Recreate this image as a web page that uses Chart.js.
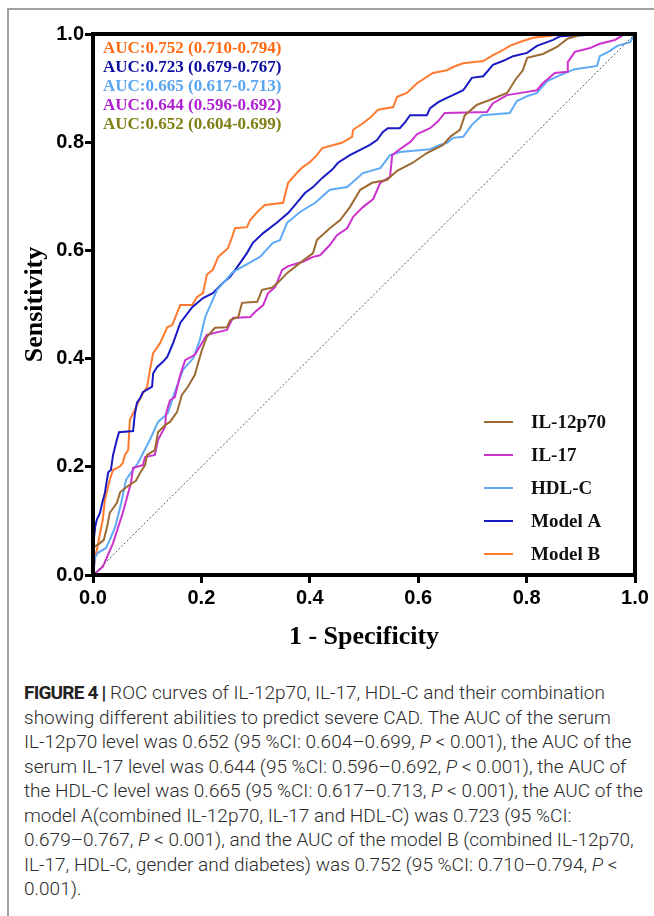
<!DOCTYPE html>
<html>
<head>
<meta charset="utf-8">
<script src="https://cdn.jsdelivr.net/npm/chart.js@4.4.1/dist/chart.umd.min.js"></script>
<style>
  body { margin: 0; background: #fff; width: 654px; height: 916px; overflow: hidden; position: relative; }
  .frame { position: absolute; left: 7px; top: 8px; width: 700px; height: 1000px;
           border-left: 2px solid #a0a0a0; border-top: 2px solid #a0a0a0; }
  .chart-box { position: absolute; left: 0; top: 0; width: 654px; height: 660px; }
  .caption { position: absolute; left: 24px; top: 681px; font-family: "Roboto", sans-serif; font-weight: 300;
             font-size: 19px; line-height: 24.5px; color: #2b2b2b; white-space: nowrap; }
  .caption b { color: #222; font-weight: 700; letter-spacing: -0.8px; }
</style>
</head>
<body>
<div class="frame"></div>
<div class="chart-box"><canvas id="rocChart"></canvas></div>
<div class="caption">
<b>FIGURE 4 |</b> ROC curves of IL-12p70, IL-17, HDL-C and their combination<br>
showing different abilities to predict severe CAD. The AUC of the serum<br>
IL-12p70 level was 0.652 (95 %CI: 0.604–0.699, <i>P</i> &lt; 0.001), the AUC of the<br>
serum IL-17 level was 0.644 (95 %CI: 0.596–0.692, <i>P</i> &lt; 0.001), the AUC of<br>
the HDL-C level was 0.665 (95 %CI: 0.617–0.713, <i>P</i> &lt; 0.001), the AUC of the<br>
model A(combined IL-12p70, IL-17 and HDL-C) was 0.723 (95 %CI:<br>
0.679–0.767, <i>P</i> &lt; 0.001), and the AUC of the model B (combined IL-12p70,<br>
IL-17, HDL-C, gender and diabetes) was 0.752 (95 %CI: 0.710–0.794, <i>P</i> &lt;<br>
0.001).
</div>
<script>
// ROC points: [1 - specificity, sensitivity]
const il12p70 = [[0,0],[0.002,0.052],[0.013,0.059],[0.020,0.065],[0.026,0.089],[0.031,0.115],[0.044,0.133],[0.050,0.153],[0.065,0.165],[0.079,0.174],[0.087,0.189],[0.096,0.203],[0.100,0.222],[0.114,0.231],[0.120,0.264],[0.133,0.277],[0.142,0.283],[0.155,0.301],[0.164,0.333],[0.175,0.348],[0.188,0.370],[0.194,0.392],[0.201,0.416],[0.210,0.440],[0.225,0.457],[0.247,0.458],[0.253,0.471],[0.268,0.477],[0.275,0.503],[0.303,0.505],[0.312,0.527],[0.330,0.531],[0.341,0.540],[0.358,0.558],[0.382,0.577],[0.406,0.595],[0.413,0.619],[0.437,0.641],[0.456,0.656],[0.474,0.680],[0.493,0.712],[0.515,0.725],[0.542,0.730],[0.561,0.747],[0.590,0.762],[0.616,0.780],[0.646,0.795],[0.659,0.810],[0.677,0.823],[0.686,0.850],[0.708,0.869],[0.732,0.878],[0.764,0.891],[0.779,0.915],[0.793,0.933],[0.801,0.956],[0.830,0.963],[0.856,0.976],[0.875,0.991],[0.904,1],[1,1]];
const il17 = [[0,0],[0.018,0.015],[0.037,0.059],[0.055,0.115],[0.070,0.170],[0.074,0.198],[0.092,0.203],[0.096,0.218],[0.114,0.222],[0.120,0.250],[0.133,0.274],[0.135,0.299],[0.142,0.323],[0.151,0.329],[0.161,0.370],[0.170,0.397],[0.188,0.407],[0.201,0.429],[0.210,0.444],[0.247,0.453],[0.258,0.475],[0.290,0.477],[0.299,0.486],[0.314,0.499],[0.323,0.521],[0.336,0.532],[0.349,0.564],[0.360,0.571],[0.387,0.579],[0.406,0.588],[0.419,0.591],[0.437,0.610],[0.450,0.628],[0.469,0.641],[0.480,0.662],[0.498,0.680],[0.517,0.695],[0.530,0.725],[0.548,0.736],[0.552,0.776],[0.566,0.787],[0.585,0.800],[0.598,0.815],[0.622,0.826],[0.637,0.839],[0.649,0.854],[0.727,0.856],[0.738,0.872],[0.764,0.887],[0.801,0.893],[0.819,0.896],[0.830,0.909],[0.852,0.928],[0.875,0.930],[0.876,0.948],[0.889,0.967],[0.917,0.974],[0.935,0.982],[0.963,0.989],[0.978,0.998],[1,1]];
const hdlc = [[0,0],[0.004,0.033],[0.009,0.041],[0.024,0.050],[0.031,0.065],[0.041,0.089],[0.052,0.133],[0.061,0.176],[0.070,0.189],[0.083,0.207],[0.105,0.250],[0.120,0.283],[0.138,0.299],[0.149,0.333],[0.166,0.379],[0.185,0.401],[0.197,0.434],[0.207,0.477],[0.229,0.527],[0.258,0.560],[0.308,0.588],[0.332,0.614],[0.345,0.619],[0.358,0.651],[0.382,0.671],[0.410,0.688],[0.437,0.712],[0.469,0.717],[0.498,0.743],[0.530,0.752],[0.548,0.776],[0.566,0.782],[0.622,0.787],[0.640,0.795],[0.653,0.799],[0.664,0.808],[0.683,0.810],[0.699,0.832],[0.718,0.850],[0.769,0.854],[0.782,0.876],[0.801,0.885],[0.819,0.891],[0.838,0.913],[0.862,0.924],[0.889,0.935],[0.930,0.941],[0.935,0.959],[0.954,0.969],[0.967,0.978],[0.991,0.985],[0.996,0.993],[1,1]];
const modelA = [[0,0],[0.002,0.070],[0.004,0.089],[0.007,0.102],[0.013,0.115],[0.017,0.133],[0.022,0.152],[0.028,0.190],[0.033,0.194],[0.037,0.222],[0.044,0.250],[0.048,0.264],[0.074,0.266],[0.077,0.296],[0.081,0.318],[0.087,0.327],[0.092,0.338],[0.109,0.348],[0.111,0.373],[0.118,0.384],[0.129,0.394],[0.137,0.403],[0.148,0.429],[0.161,0.466],[0.183,0.495],[0.203,0.512],[0.221,0.521],[0.240,0.540],[0.253,0.551],[0.266,0.569],[0.284,0.595],[0.295,0.614],[0.314,0.632],[0.339,0.651],[0.360,0.669],[0.376,0.688],[0.391,0.706],[0.406,0.717],[0.423,0.734],[0.441,0.749],[0.452,0.762],[0.474,0.776],[0.493,0.786],[0.511,0.795],[0.524,0.804],[0.535,0.819],[0.544,0.826],[0.566,0.826],[0.576,0.837],[0.585,0.850],[0.616,0.850],[0.622,0.863],[0.637,0.874],[0.653,0.882],[0.664,0.887],[0.683,0.896],[0.699,0.919],[0.720,0.922],[0.738,0.943],[0.756,0.950],[0.775,0.959],[0.801,0.965],[0.819,0.978],[0.849,0.989],[0.862,0.996],[0.911,0.998],[1,1]];
const modelB = [[0,0],[0.002,0.018],[0.004,0.033],[0.009,0.055],[0.013,0.078],[0.018,0.102],[0.022,0.139],[0.031,0.176],[0.037,0.194],[0.050,0.201],[0.055,0.207],[0.059,0.222],[0.065,0.231],[0.068,0.287],[0.077,0.305],[0.081,0.314],[0.092,0.336],[0.100,0.348],[0.105,0.379],[0.111,0.410],[0.124,0.429],[0.137,0.458],[0.146,0.462],[0.155,0.484],[0.161,0.499],[0.183,0.499],[0.192,0.514],[0.203,0.521],[0.210,0.555],[0.221,0.564],[0.231,0.588],[0.249,0.604],[0.256,0.623],[0.262,0.641],[0.284,0.643],[0.290,0.656],[0.303,0.671],[0.317,0.684],[0.351,0.688],[0.354,0.702],[0.360,0.725],[0.376,0.743],[0.387,0.754],[0.400,0.763],[0.413,0.776],[0.423,0.789],[0.459,0.799],[0.478,0.810],[0.480,0.823],[0.498,0.835],[0.511,0.845],[0.526,0.860],[0.554,0.865],[0.561,0.884],[0.579,0.891],[0.598,0.909],[0.627,0.928],[0.653,0.933],[0.664,0.939],[0.683,0.946],[0.720,0.950],[0.738,0.961],[0.756,0.970],[0.769,0.978],[0.793,0.987],[0.812,0.993],[0.856,0.998],[0.899,1],[1,1]];
const reference = [[0,0],[1,1]];

const seriesNames = ['IL-12p70', 'IL-17', 'HDL-C', 'Model A', 'Model B'];
const aucLabels = [
    'AUC:0.752 (0.710-0.794)',
    'AUC:0.723 (0.679-0.767)',
    'AUC:0.665 (0.617-0.713)',
    'AUC:0.644 (0.596-0.692)',
    'AUC:0.652 (0.604-0.699)'
];
const tickValues = [0, 0.2, 0.4, 0.6, 0.8, 1.0];
const tickLabels = ['0.0', '0.2', '0.4', '0.6', '0.8', '1.0'];

const lineColors = ['#9c6a32', '#cc33cc', '#5eaaf5', '#1a1ac4', '#ff7a2e'];
const aucColors = ['#ff6a14', '#0c0ca0', '#5aa6f2', '#b020d0', '#7f7f14'];

const toXY = pts => pts.map(p => ({ x: p[0], y: p[1] }));

// legend + AUC text inside the plot, and the closed black frame
const innerText = {
    id: 'innerText',
    afterDatasetsDraw(chart) {
        const { ctx, chartArea } = chart;
        ctx.save();
        ctx.strokeStyle = '#000';
        ctx.lineWidth = 4;
        ctx.strokeRect(chartArea.left, chartArea.top, chartArea.right - chartArea.left, chartArea.bottom - chartArea.top);

        ctx.font = 'bold 17px "Liberation Serif", "Times New Roman", serif';
        ctx.textBaseline = 'middle';
        ctx.textAlign = 'left';
        aucLabels.forEach((t, i) => {
            ctx.fillStyle = aucColors[i];
            ctx.fillText(t, chartArea.left + 10, chartArea.top + 15 + i * 19);
        });

        ctx.font = 'bold 19px "Liberation Serif", "Times New Roman", serif';
        seriesNames.forEach((name, i) => {
            const y = chartArea.top + 388 + i * 33;
            ctx.strokeStyle = lineColors[i];
            ctx.lineWidth = 2;
            ctx.beginPath();
            ctx.moveTo(chartArea.left + 391, y);
            ctx.lineTo(chartArea.left + 420, y);
            ctx.stroke();
            ctx.fillStyle = '#111';
            ctx.fillText(name, chartArea.left + 438, y + 1);
        });
        ctx.restore();
    }
};

const datasets = [
    {
        label: 'ref',
        data: toXY(reference),
        borderColor: '#555',
        borderWidth: 1,
        borderDash: [2, 2],
        pointRadius: 0
    }
];
[il12p70, il17, hdlc, modelA, modelB].forEach((pts, i) => {
    datasets.push({
        label: seriesNames[i],
        data: toXY(pts),
        borderColor: lineColors[i],
        borderWidth: 2,
        pointRadius: 0,
        tension: 0
    });
});

const axisTicks = {
    color: '#000',
    font: { family: '"Liberation Sans", Arial, sans-serif', size: 20, weight: 'bold' },
    callback: (v) => {
        const idx = tickValues.findIndex(t => Math.abs(t - v) < 1e-6);
        return idx >= 0 ? tickLabels[idx] : '';
    }
};

new Chart(document.getElementById('rocChart'), {
    type: 'line',
    data: { datasets: datasets },
    options: {
        responsive: true,
        maintainAspectRatio: false,
        animation: false,
        layout: { padding: { top: 34, right: 19, left: 0, bottom: 0 } },
        plugins: {
            legend: { display: false },
            tooltip: { enabled: false }
        },
        scales: {
            x: {
                type: 'linear',
                min: 0,
                max: 1,
                afterFit: (scale) => { scale.height = 85; },
                afterBuildTicks: (scale) => { scale.ticks = tickValues.map(v => ({ value: v })); },
                border: { display: true, width: 4, color: '#000' },
                grid: { drawOnChartArea: false, tickLength: 8, tickWidth: 3, tickColor: '#000' },
                ticks: Object.assign({ padding: 3, maxRotation: 0 }, axisTicks),
                title: {
                    display: true,
                    text: '1 - Specificity',
                    color: '#000',
                    font: { family: '"Liberation Serif", "Times New Roman", serif', size: 26, weight: 'bold' },
                    padding: { top: 0, bottom: 7 }
                }
            },
            y: {
                type: 'linear',
                min: 0,
                max: 1,
                afterFit: (scale) => { scale.width = 93; },
                afterBuildTicks: (scale) => { scale.ticks = tickValues.map(v => ({ value: v })); },
                border: { display: true, width: 4, color: '#000' },
                grid: { drawOnChartArea: false, tickLength: 8, tickWidth: 3, tickColor: '#000' },
                ticks: Object.assign({ padding: 1 }, axisTicks),
                title: {
                    display: true,
                    text: 'Sensitivity',
                    color: '#000',
                    font: { family: '"Liberation Serif", "Times New Roman", serif', size: 26, weight: 'bold' },
                    padding: { top: 20, bottom: 0 }
                }
            }
        }
    },
    plugins: [innerText]
});
</script>
</body>
</html>
